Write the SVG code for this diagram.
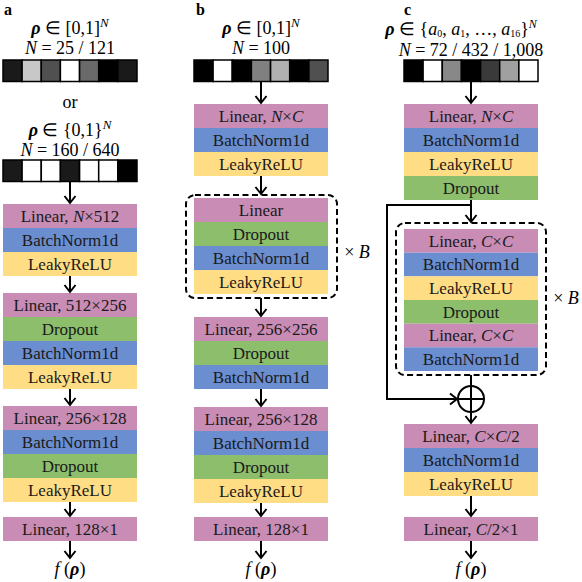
<svg xmlns="http://www.w3.org/2000/svg" width="582" height="582" viewBox="0 0 582 582">
<style>
.t{font-family:"Liberation Serif","Times New Roman",serif;font-size:17px;fill:#1a1a1a;text-anchor:middle}
.m{font-family:"Liberation Serif","Times New Roman",serif;font-size:18px;fill:#000;text-anchor:middle}
.lab{font-family:"Liberation Serif","Times New Roman",serif;font-size:16px;font-weight:bold;fill:#000}
.lin{fill:#C88CB5}.bn{fill:#6A8ED0}.dr{fill:#8CBE6C}.lr{fill:#FFDD84}
.cell{stroke:#000;stroke-width:1.5}
.con{stroke:#000;stroke-width:2;fill:none}
.dash{fill:none;stroke:#000;stroke-width:2;stroke-dasharray:6,3.5}
</style>
<defs>
<marker id="ah" markerUnits="userSpaceOnUse" markerWidth="14" markerHeight="14" viewBox="-9 -7 11 14" refX="0" refY="0" orient="auto" overflow="visible">
<path d="M-7,-5.5 L0,0 L-7,5.5" fill="none" stroke="#000" stroke-width="2"/>
</marker>
</defs>

<!-- labels -->
<text class="lab" x="4" y="15">a</text>
<text class="lab" x="196" y="15">b</text>
<text class="lab" x="404" y="15">c</text>

<!-- column a inputs -->
<g id="input-a1">
<text class="m" x="70" y="34"><tspan font-weight="bold" font-style="italic">ρ</tspan> ∈ [0,1]<tspan font-style="italic" font-size="13" dy="-7">N</tspan></text>
<text class="m" x="70" y="54"><tspan font-style="italic">N</tspan> = 25 / 121</text>
<rect class="cell" x="3" y="60" width="19.1" height="21.5" fill="#1a1a1a"/>
<rect class="cell" x="22.1" y="60" width="19.1" height="21.5" fill="#c8c8c8"/>
<rect class="cell" x="41.3" y="60" width="19.1" height="21.5" fill="#505050"/>
<rect class="cell" x="60.4" y="60" width="19.1" height="21.5" fill="#ffffff"/>
<rect class="cell" x="79.6" y="60" width="19.1" height="21.5" fill="#6a6a6a"/>
<rect class="cell" x="98.7" y="60" width="19.1" height="21.5" fill="#000000"/>
<rect class="cell" x="117.9" y="60" width="19.1" height="21.5" fill="#1a1a1a"/>
</g>
<text class="m" x="70" y="108">or</text>
<g id="input-a2">
<text class="m" x="70" y="136"><tspan font-weight="bold" font-style="italic">ρ</tspan> ∈ {0,1}<tspan font-style="italic" font-size="13" dy="-7">N</tspan></text>
<text class="m" x="70" y="156"><tspan font-style="italic">N</tspan> = 160 / 640</text>
<rect class="cell" x="3" y="160" width="19.1" height="21.5" fill="#1a1a1a"/>
<rect class="cell" x="22.1" y="160" width="19.1" height="21.5" fill="#ffffff"/>
<rect class="cell" x="41.3" y="160" width="19.1" height="21.5" fill="#ffffff"/>
<rect class="cell" x="60.4" y="160" width="19.1" height="21.5" fill="#1a1a1a"/>
<rect class="cell" x="79.6" y="160" width="19.1" height="21.5" fill="#ffffff"/>
<rect class="cell" x="98.7" y="160" width="19.1" height="21.5" fill="#ffffff"/>
<rect class="cell" x="117.9" y="160" width="19.1" height="21.5" fill="#000000"/>
</g>

<!-- column a layers -->
<g id="a-block1">
<rect class="lin" x="3" y="204" width="134" height="24"/><text class="t" x="70" y="221.5">Linear, <tspan font-style="italic">N</tspan>×512</text>
<rect class="bn" x="3" y="228" width="134" height="24"/><text class="t" x="70" y="245.5">BatchNorm1d</text>
<rect class="lr" x="3" y="252" width="134" height="24"/><text class="t" x="70" y="269.5">LeakyReLU</text>
</g>
<g id="a-block2">
<rect class="lin" x="3" y="293" width="134" height="24"/><text class="t" x="70" y="310.5">Linear, 512×256</text>
<rect class="dr" x="3" y="317" width="134" height="24"/><text class="t" x="70" y="334.5">Dropout</text>
<rect class="bn" x="3" y="341" width="134" height="24"/><text class="t" x="70" y="358.5">BatchNorm1d</text>
<rect class="lr" x="3" y="365" width="134" height="24"/><text class="t" x="70" y="382.5">LeakyReLU</text>
</g>
<g id="a-block3">
<rect class="lin" x="3" y="406" width="134" height="24"/><text class="t" x="70" y="423.5">Linear, 256×128</text>
<rect class="bn" x="3" y="430" width="134" height="24"/><text class="t" x="70" y="447.5">BatchNorm1d</text>
<rect class="dr" x="3" y="454" width="134" height="24"/><text class="t" x="70" y="471.5">Dropout</text>
<rect class="lr" x="3" y="478" width="134" height="24"/><text class="t" x="70" y="495.5">LeakyReLU</text>
</g>
<g id="a-out">
<rect class="lin" x="3" y="517" width="134" height="24"/><text class="t" x="70" y="534.5">Linear, 128×1</text>
<text class="m" x="70" y="575"><tspan font-style="italic">f</tspan> (<tspan font-weight="bold" font-style="italic">ρ</tspan>)</text>
</g>

<!-- column b -->
<g id="input-b">
<text class="m" x="261" y="34"><tspan font-weight="bold" font-style="italic">ρ</tspan> ∈ [0,1]<tspan font-style="italic" font-size="13" dy="-7">N</tspan></text>
<text class="m" x="261" y="54"><tspan font-style="italic">N</tspan> = 100</text>
<rect class="cell" x="194" y="60" width="19.1" height="21.5" fill="#000000"/>
<rect class="cell" x="213.1" y="60" width="19.1" height="21.5" fill="#ffffff"/>
<rect class="cell" x="232.3" y="60" width="19.1" height="21.5" fill="#000000"/>
<rect class="cell" x="251.4" y="60" width="19.1" height="21.5" fill="#808080"/>
<rect class="cell" x="270.6" y="60" width="19.1" height="21.5" fill="#b0b0b0"/>
<rect class="cell" x="289.7" y="60" width="19.1" height="21.5" fill="#000000"/>
<rect class="cell" x="308.9" y="60" width="19.1" height="21.5" fill="#505050"/>
</g>
<g id="b-block1">
<rect class="lin" x="194" y="104" width="134" height="24"/><text class="t" x="261" y="121.5">Linear, <tspan font-style="italic">N</tspan>×<tspan font-style="italic">C</tspan></text>
<rect class="bn" x="194" y="128" width="134" height="24"/><text class="t" x="261" y="145.5">BatchNorm1d</text>
<rect class="lr" x="194" y="152" width="134" height="24"/><text class="t" x="261" y="169.5">LeakyReLU</text>
</g>
<g id="b-repeat">
<rect class="dash" x="186" y="195" width="151" height="103" rx="9"/>
<rect class="lin" x="194" y="198" width="134" height="24"/><text class="t" x="261" y="215.5">Linear</text>
<rect class="dr" x="194" y="222" width="134" height="24"/><text class="t" x="261" y="239.5">Dropout</text>
<rect class="bn" x="194" y="246" width="134" height="24"/><text class="t" x="261" y="263.5">BatchNorm1d</text>
<rect class="lr" x="194" y="270" width="134" height="24"/><text class="t" x="261" y="287.5">LeakyReLU</text>
<text class="m" x="357" y="258">× <tspan font-style="italic">B</tspan></text>
</g>
<g id="b-block2">
<rect class="lin" x="194" y="317" width="134" height="24"/><text class="t" x="261" y="334.5">Linear, 256×256</text>
<rect class="dr" x="194" y="341" width="134" height="24"/><text class="t" x="261" y="358.5">Dropout</text>
<rect class="bn" x="194" y="365" width="134" height="24"/><text class="t" x="261" y="382.5">BatchNorm1d</text>
</g>
<g id="b-block3">
<rect class="lin" x="194" y="407" width="134" height="24"/><text class="t" x="261" y="424.5">Linear, 256×128</text>
<rect class="bn" x="194" y="431" width="134" height="24"/><text class="t" x="261" y="448.5">BatchNorm1d</text>
<rect class="dr" x="194" y="455" width="134" height="24"/><text class="t" x="261" y="472.5">Dropout</text>
<rect class="lr" x="194" y="479" width="134" height="24"/><text class="t" x="261" y="496.5">LeakyReLU</text>
</g>
<g id="b-out">
<rect class="lin" x="194" y="517" width="134" height="24"/><text class="t" x="261" y="534.5">Linear, 128×1</text>
<text class="m" x="261" y="575"><tspan font-style="italic">f</tspan> (<tspan font-weight="bold" font-style="italic">ρ</tspan>)</text>
</g>

<!-- column c -->
<g id="input-c">
<text class="m" x="461" y="34.5" font-size="17"><tspan font-weight="bold" font-style="italic">ρ</tspan> ∈ {<tspan font-style="italic">a</tspan><tspan font-size="10" baseline-shift="-2">0</tspan>, <tspan font-style="italic">a</tspan><tspan font-size="10" baseline-shift="-2">1</tspan>, …, <tspan font-style="italic">a</tspan><tspan font-size="10" baseline-shift="-2">16</tspan>}<tspan font-style="italic" font-size="12" baseline-shift="7">N</tspan></text>
<text class="m" x="471" y="56"><tspan font-style="italic">N</tspan> = 72 / 432 / 1,008</text>
<rect class="cell" x="404" y="60" width="19.1" height="21.5" fill="#000000"/>
<rect class="cell" x="423.1" y="60" width="19.1" height="21.5" fill="#ffffff"/>
<rect class="cell" x="442.3" y="60" width="19.1" height="21.5" fill="#888888"/>
<rect class="cell" x="461.4" y="60" width="19.1" height="21.5" fill="#000000"/>
<rect class="cell" x="480.6" y="60" width="19.1" height="21.5" fill="#3a3a3a"/>
<rect class="cell" x="499.7" y="60" width="19.1" height="21.5" fill="#a0a0a0"/>
<rect class="cell" x="518.9" y="60" width="19.1" height="21.5" fill="#ffffff"/>
</g>
<g id="c-block1">
<rect class="lin" x="404" y="104" width="134" height="24"/><text class="t" x="471" y="121.5">Linear, <tspan font-style="italic">N</tspan>×<tspan font-style="italic">C</tspan></text>
<rect class="bn" x="404" y="128" width="134" height="24"/><text class="t" x="471" y="145.5">BatchNorm1d</text>
<rect class="lr" x="404" y="152" width="134" height="24"/><text class="t" x="471" y="169.5">LeakyReLU</text>
<rect class="dr" x="404" y="176" width="134" height="24"/><text class="t" x="471" y="193.5">Dropout</text>
</g>
<g id="c-repeat">
<rect class="dash" x="396" y="223" width="150" height="152" rx="9"/>
<rect class="lin" x="404" y="229" width="134" height="23.7"/><text class="t" x="471" y="246.5">Linear, <tspan font-style="italic">C</tspan>×<tspan font-style="italic">C</tspan></text>
<rect class="bn" x="404" y="252.7" width="134" height="23.7"/><text class="t" x="471" y="270.2">BatchNorm1d</text>
<rect class="lr" x="404" y="276.3" width="134" height="23.7"/><text class="t" x="471" y="293.8">LeakyReLU</text>
<rect class="dr" x="404" y="300" width="134" height="23.7"/><text class="t" x="471" y="317.5">Dropout</text>
<rect class="lin" x="404" y="323.7" width="134" height="23.7"/><text class="t" x="471" y="341.2">Linear, <tspan font-style="italic">C</tspan>×<tspan font-style="italic">C</tspan></text>
<rect class="bn" x="404" y="347.3" width="134" height="23.7"/><text class="t" x="471" y="364.8">BatchNorm1d</text>
<text class="m" x="566" y="304">× <tspan font-style="italic">B</tspan></text>
</g>
<g id="c-add">
<circle cx="471" cy="399" r="13" fill="none" stroke="#000" stroke-width="2"/>
<line x1="458" y1="399" x2="484" y2="399" stroke="#000" stroke-width="2"/>
<line x1="471" y1="386" x2="471" y2="412" stroke="#000" stroke-width="2"/>
</g>
<g id="c-block2">
<rect class="lin" x="404" y="424" width="134" height="24"/><text class="t" x="471" y="441.5">Linear, <tspan font-style="italic">C</tspan>×<tspan font-style="italic">C</tspan>/2</text>
<rect class="bn" x="404" y="448" width="134" height="24"/><text class="t" x="471" y="465.5">BatchNorm1d</text>
<rect class="lr" x="404" y="472" width="134" height="24"/><text class="t" x="471" y="489.5">LeakyReLU</text>
</g>
<g id="c-out">
<rect class="lin" x="404" y="517" width="134" height="24"/><text class="t" x="471" y="534.5">Linear, <tspan font-style="italic">C</tspan>/2×1</text>
<text class="m" x="471" y="575"><tspan font-style="italic">f</tspan> (<tspan font-weight="bold" font-style="italic">ρ</tspan>)</text>
</g>

<!-- connectors -->
<g id="connectors">
<line class="con" x1="70" y1="182" x2="70" y2="203" marker-end="url(#ah)"/>
<line class="con" x1="70" y1="276" x2="70" y2="292" marker-end="url(#ah)"/>
<line class="con" x1="70" y1="389" x2="70" y2="405" marker-end="url(#ah)"/>
<line class="con" x1="70" y1="502" x2="70" y2="516" marker-end="url(#ah)"/>
<line class="con" x1="70" y1="541" x2="70" y2="558" marker-end="url(#ah)"/>

<line class="con" x1="261" y1="82" x2="261" y2="103" marker-end="url(#ah)"/>
<line class="con" x1="261" y1="176" x2="261" y2="194" marker-end="url(#ah)"/>
<line class="con" x1="261" y1="298" x2="261" y2="316" marker-end="url(#ah)"/>
<line class="con" x1="261" y1="389" x2="261" y2="406" marker-end="url(#ah)"/>
<line class="con" x1="261" y1="503" x2="261" y2="516" marker-end="url(#ah)"/>
<line class="con" x1="261" y1="541" x2="261" y2="558" marker-end="url(#ah)"/>

<line class="con" x1="471" y1="82" x2="471" y2="103" marker-end="url(#ah)"/>
<line class="con" x1="471" y1="200" x2="471" y2="222" marker-end="url(#ah)"/>
<path class="con" d="M471,205 H387 V399 H457" marker-end="url(#ah)"/>
<line class="con" x1="471" y1="375" x2="471" y2="386"/>
<line class="con" x1="471" y1="412" x2="471" y2="423" marker-end="url(#ah)"/>
<line class="con" x1="471" y1="496" x2="471" y2="516" marker-end="url(#ah)"/>
<line class="con" x1="471" y1="541" x2="471" y2="558" marker-end="url(#ah)"/>
</g>
</svg>
